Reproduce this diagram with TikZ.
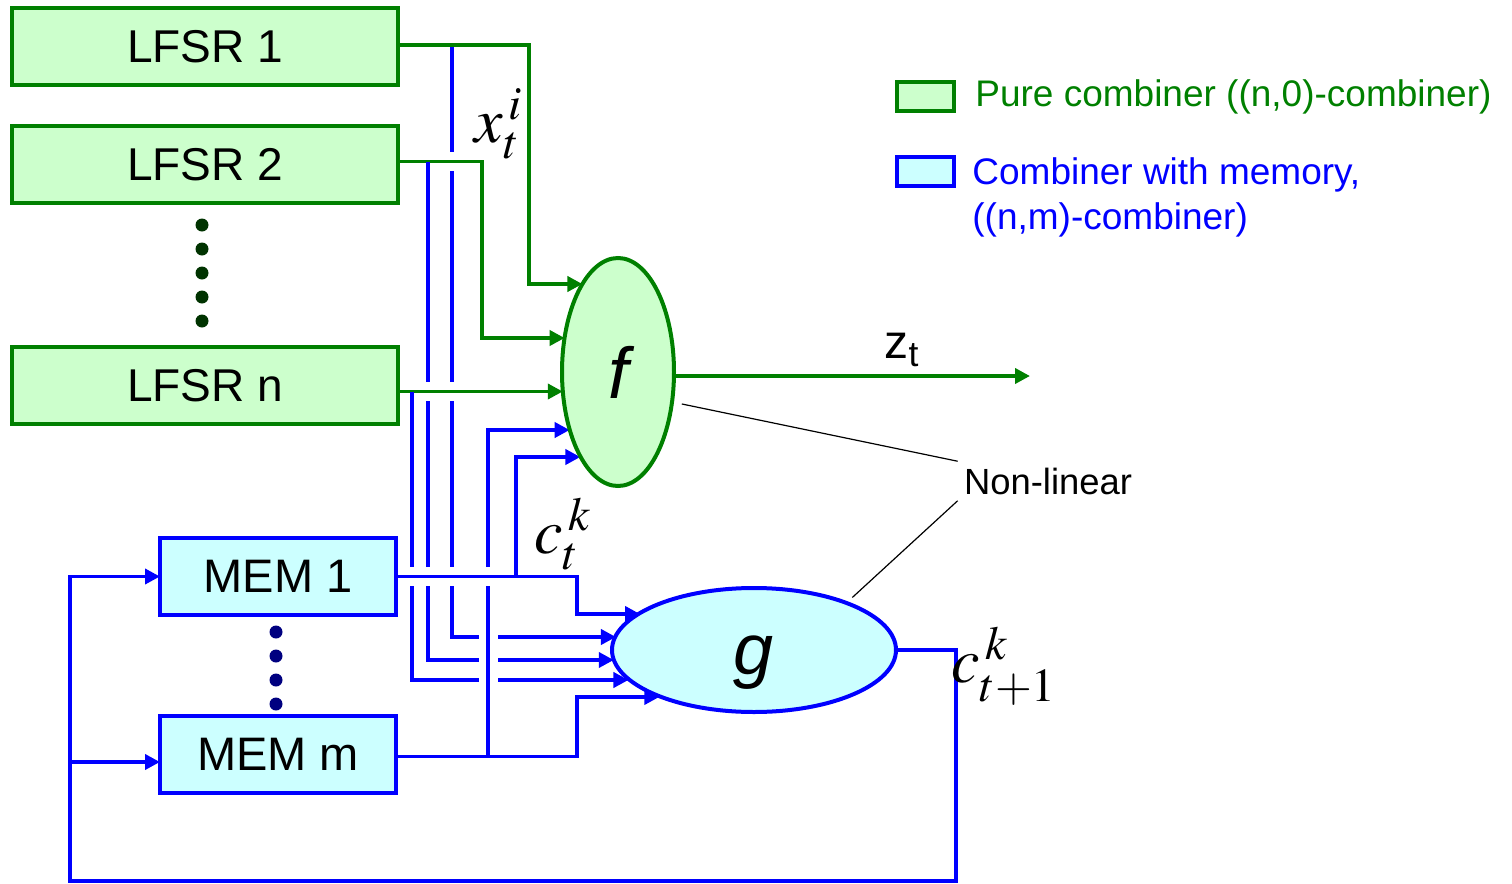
\documentclass[tikz,border=0pt]{standalone}
\usepackage{mathptmx}
\usepackage{fontspec}
\setmainfont{Liberation Sans}
\usepackage{tikz}
\usetikzlibrary{positioning,shapes.geometric,arrows.meta,backgrounds}

\definecolor{wiregreen}{HTML}{008000}
\definecolor{boxgreen}{HTML}{CCFFCC}
\definecolor{wireblue}{HTML}{0000FF}
\definecolor{boxblue}{HTML}{CCFFFF}
\definecolor{dotgreen}{HTML}{003300}
\definecolor{dotblue}{HTML}{000080}

\begin{document}
\begin{tikzpicture}[x=0.5pt,y=-0.5pt,>={Triangle[length=7.5pt,width=7.5pt]},
    lfsr/.style={rectangle,draw=wiregreen,fill=boxgreen,line width=1.75pt,minimum width=193pt,minimum height=38.5pt,outer sep=0pt,font=\fontsize{23}{28}\selectfont},
    mem/.style={rectangle,draw=wireblue,fill=boxblue,line width=1.75pt,minimum width=118pt,minimum height=38.5pt,outer sep=0pt,font=\fontsize{23.5}{28}\selectfont},
    func/.style={ellipse,line width=2pt,inner sep=0pt,outer sep=0pt,font=\fontsize{36}{40}\selectfont\itshape},
    legbox/.style={rectangle,line width=1.75pt,minimum width=28.5pt,minimum height=14.5pt,outer sep=0pt},
    gwire/.style={draw=wiregreen,line width=1.9pt},
    bwire/.style={draw=wireblue,line width=1.9pt},
    bridge/.style={preaction={draw=white,line width=9.5pt,arrows=-}},
    var/.style={inner sep=0pt,font=\fontsize{32}{38}\selectfont},
    legtext/.style={inner sep=0pt,align=left,font=\fontsize{18.5}{22.5}\selectfont}]
    \useasboundingbox (0,0) rectangle (1512,884);

    % registers
    \node[lfsr] (lfsr1) at (205,46.5) {LFSR 1};
    \node[lfsr] (lfsr2) [below=20.5pt of lfsr1] {LFSR 2};
    \node[lfsr] (lfsrn) [below=72pt of lfsr2] {LFSR n};
    \node[mem] (mem1) at (278,576.5) {MEM 1};
    \node[mem] (memm) [below=50.5pt of mem1] {MEM m};
    \foreach \y in {225,249,273,297,321} \fill[dotgreen] (202,\y) circle (3.25pt);
    \foreach \y in {632,656,680,704} \fill[dotblue] (276,\y) circle (3.25pt);

    % functions
    \node[func,draw=wiregreen,fill=boxgreen,minimum width=56pt,minimum height=114pt] (f) at (618,372) {f};
    \node[func,draw=wireblue,fill=boxblue,minimum width=142pt,minimum height=62pt,text height=24pt,text depth=0pt] (g) at (754,650) {g};

    % labels
    \node[var] (xin) at (499,124) {$x_t^{\,i}$};
    \node[var] (cin) at (563,534) {$c_t^{\,k}$};
    \node[var] (cnext) at (1004,666) {$c_{t+1}^{\,k}$};
    \node[inner sep=0pt,font=\fontsize{24}{28}\selectfont] (zlabel) at (902,350) {z\textsubscript{t}};
    \node[inner sep=3pt,font=\fontsize{18.2}{22}\selectfont] (nonlin) at (1048,481) {Non-linear};
    \coordinate (out1) at ([yshift=0.75pt]lfsr1.east);
    \coordinate (out2) at ([yshift=1.5pt]lfsr2.east);
    \coordinate (outn) at ([yshift=-3pt]lfsrn.east);
    \coordinate (outm) at ([yshift=-1pt]memm.east);
    \coordinate (zout) at (1030,376);
    \coordinate (fbtop) at (mem1.west -| 70,0);
    \coordinate (fbmid) at (70,762);

    % legend
    \node[legbox,draw=wiregreen,fill=boxgreen] (legpure) at (925.5,96.5) {};
    \node[legtext,text=wiregreen,right=10.5pt of legpure] (legpuretext) {Pure combiner ((n,0)-combiner)};
    \node[legbox,draw=wireblue,fill=boxblue] (legmem) at (925.5,171.5) {};
    \node[legtext,text=wireblue,anchor=north west] (legmemtext) at (972,157) {Combiner with memory,\\((n,m)-combiner)};

    \draw[line width=0.6pt,shorten <=5pt] (f.-29.4) -- (nonlin.north west);
    \draw[line width=0.6pt,shorten <=4pt] (g.27.9) -- (nonlin.south west);

    \begin{scope}[on background layer]
    \draw[bwire,->] (out1 -| 452,0) |- (g.174.65 |- 0,637);
    \draw[gwire,bridge,->] (out2) -| (482,338) -- (f.147.5 |- 0,338);
    \draw[bwire,->] (out2 -| 428,0) |- (g.184.1 |- 0,660);
    \draw[gwire,bridge,->] (outn) -- (f.199.9 |- outn);
    \draw[bwire,->] (outn -| 412,0) |- (g.193.6 |- 0,680);
    \draw[bwire,bridge,->] (outm -| 488,0) |- (f.230.3 |- 0,430);
    \draw[bwire,->] (outm) -| (577,697) -- (g.206.9 |- 0,697);
    \draw[bwire,bridge,->] (mem1.east) -| (577,614) -- (g.162.7 |- 0,614);
    \draw[bwire,->] (mem1.east -| 516,0) |- (f.246.3 |- 0,457);
    \draw[gwire,->] (out1) -| (529,284) -- (f.112 |- 0,284);
    \draw[gwire,->] (f.east |- zout) -- (zout);
    \draw[bwire,->] (g.east) -| (956,881) -| (fbtop) -- (mem1.west);
    \draw[bwire,->] (fbmid) -- (memm.west |- fbmid);
    \end{scope}
\end{tikzpicture}
\end{document}
